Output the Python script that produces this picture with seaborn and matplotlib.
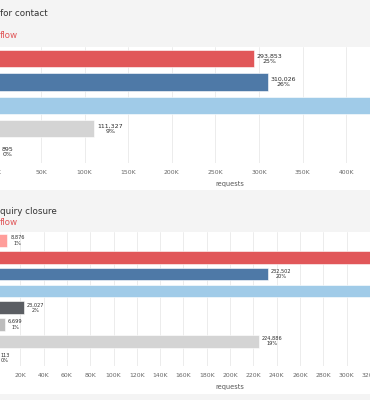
import matplotlib
matplotlib.use("Agg")
import matplotlib.pyplot as plt
from matplotlib.patches import Rectangle
from matplotlib.ticker import MultipleLocator, FuncFormatter
import pandas as pd
import seaborn as sns

# panel 1: requests for contact (the value past the right edge is a guess)
contact_cats = ["Group B", "Group C", "Group D", "Group G", "Group H"]
contact_vals = [293853, 310026, 462500, 111327, 895]
contact_pcts = [25, 26, 39, 9, 0]
contact_colors = ["#e15759", "#4e79a7", "#a0cbe8", "#d4d4d4", "#79706e"]

# panel 2: inquiry closure
closure_cats = ["Group A", "Group B", "Group C", "Group D", "Group E", "Group F", "Group G", "Group H"]
closure_vals = [8876, 340000, 232502, 345000, 23027, 6699, 224886, 113]
closure_pcts = [1, 29, 20, 29, 2, 1, 19, 0]
closure_colors = ["#ff9d9a", "#e15759", "#4e79a7", "#a0cbe8", "#5b5e63", "#bdbdbd", "#d4d4d4", "#79706e"]

W, H = 370, 400
BG = "#f4f4f4"

sns.set_theme(style="white")
plt.rcParams["font.family"] = ["DejaVu Sans"]

fig = plt.figure(figsize=(W / 100, H / 100), dpi=100, facecolor=BG)


def px_axes(left, top, width, height):
    return fig.add_axes([left / W, 1 - (top + height) / H, width / W, height / H])


def white_band(top, bottom):
    fig.add_artist(Rectangle((0, 1 - bottom / H), 1, (bottom - top) / H,
                             transform=fig.transFigure, facecolor="white",
                             edgecolor="none", zorder=-1))


def draw_panel(ax, cats, vals, pcts, colors, xmax, step, lab_size):
    df = pd.DataFrame({"cat": cats, "val": vals})
    sns.barplot(data=df, x="val", y="cat", hue="cat", palette=dict(zip(cats, colors)),
                orient="h", width=0.75, saturation=1, legend=False, ax=ax,
                edgecolor="white", linewidth=0.4)
    ax.set_xlim(0, xmax)
    ax.xaxis.set_major_locator(MultipleLocator(step))
    ax.xaxis.set_major_formatter(FuncFormatter(lambda x, p: f"{x / 1000:.0f}K"))
    ax.grid(axis="x", color="#e9e9e9", lw=0.6)
    ax.set_axisbelow(True)
    ax.set_facecolor("white")
    for s in ax.spines.values():
        s.set_visible(False)
    ax.tick_params(axis="x", length=0, labelsize=4.4, labelcolor="#666666", pad=4.5)
    # category labels sit left of the visible crop
    ax.set_yticklabels([])
    ax.tick_params(axis="y", length=0)
    ax.set_ylabel("")
    ax.set_xlabel("requests", fontsize=4.8, color="#555555", labelpad=4.8)
    for i, (v, p) in enumerate(zip(vals, pcts)):
        ax.annotate(f"{v:,}\n{p}%", xy=(v, i), xytext=(2.2, 0), textcoords="offset points",
                    ha="left", va="center", multialignment="center",
                    fontsize=lab_size, color="#2a2a2a", linespacing=1.1)


white_band(48, 190)
white_band(232, 394)

ax1 = px_axes(-2.6, 47, 465.2, 116.5)
draw_panel(ax1, contact_cats, contact_vals, contact_pcts, contact_colors,
           465.2 / 0.000872, 50000, 4.5)

ax2 = px_axes(-3.0, 232, 465.0, 134.4)
draw_panel(ax2, closure_cats, closure_vals, closure_pcts, closure_colors,
           465.0 / 0.001165, 20000, 3.6)

fig.text(0.0, 1 - 14 / H, "for contact", fontsize=6.3, color="#333333", va="center", ha="left")
fig.text(0.0, 1 - 36 / H, "flow", fontsize=6.3, color="#e15759", va="center", ha="left")
fig.text(0.0, 1 - 211 / H, "quiry closure", fontsize=6.3, color="#333333", va="center", ha="left")
fig.text(0.0, 1 - 222 / H, "flow", fontsize=6.3, color="#e15759", va="center", ha="left")

fig.savefig("out.png", dpi=100, facecolor=BG)
